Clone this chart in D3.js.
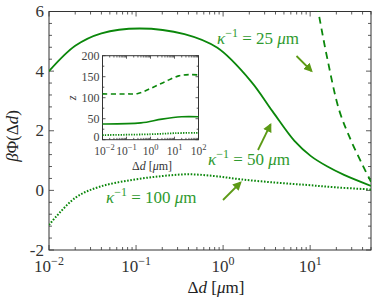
<!DOCTYPE html>
<html>
<head>
<meta charset="utf-8">
<script src="https://cdn.jsdelivr.net/npm/d3@7"></script>
<style>
  body { margin: 0; background: #fff; }
</style>
</head>
<body>
<script>
// ---- data ----
// main panel: beta*Phi vs delta d [um]
const k50_dd  = [0.01, 0.02, 0.04, 0.11, 0.36, 0.86, 2.1, 3.7, 6.6, 10.2, 15.8, 24.5, 50];
const k50_phi = [4.0, 4.85, 5.27, 5.43, 5.24, 4.78, 3.65, 2.65, 1.66, 1.15, 0.80, 0.52, 0.15];

const k25_dd  = [9, 12.4, 15.8, 21.5, 29.3, 40, 50];
const k25_phi = [8.2, 6.0, 4.4, 2.7, 1.69, 0.85, 0.29];

const k100_dd  = [0.01, 0.02, 0.038, 0.09, 0.2, 0.4, 0.8, 1.6, 4, 9.3, 20, 50];
const k100_phi = [-1.16, -0.25, 0.12, 0.35, 0.48, 0.54, 0.48, 0.37, 0.26, 0.18, 0.10, 0.03];

// inset: z vs delta d
const z25_dd  = [0.01, 0.1, 0.3, 1, 4, 15, 40, 100];
const z25_z   = [109, 109, 110, 122, 138, 152, 155, 154];
const z50_dd  = [0.01, 0.4, 3, 20, 100];
const z50_z   = [37.5, 40, 49, 54.5, 54.5];
const z100_dd = [0.01, 1, 10, 100];
const z100_z  = [11, 13, 15.5, 16.5];

const main_xticks = [0.01, 0.1, 1, 10];
const main_xexp   = ["−2", "−1", "0", "1"];
const main_yticks = [-2, 0, 2, 4, 6];
const inset_xticks = [0.01, 0.1, 1, 10, 100];
const inset_xexp   = ["−2", "−1", "0", "1", "2"];
const inset_yticks = [0, 50, 100, 150, 200];

const labels = [
  {val: "25", x: 217, y: 44},
  {val: "50", x: 208, y: 165},
  {val: "100", x: 106, y: 203}
];
const arrows = [
  [296.5, 56, 311.5, 71],
  [258, 150, 270.5, 124.5],
  [223, 200, 240.5, 182.5]
];

const FONT = "'Liberation Serif', 'Times New Roman', 'DejaVu Serif', serif";
const curve_col = "#0b870b";
const text_col = "#2f9a2f";
const arrow_col = "#5c9a16";
const frame_col = "#333";

let svg = d3.select("body").append("svg")
  .attr("width", 374).attr("height", 300)
  .attr("font-family", FONT);

// ---- main scales ----
let x = d3.scaleLog().domain([0.01, 50]).range([49, 371]);
let y = d3.scaleLinear().domain([-2, 6]).range([250, 11.5]);

svg.append("clipPath").attr("id", "mainclip")
  .append("rect").attr("x", 49).attr("y", 11.5).attr("width", 322).attr("height", 238.5);

function zip(a, b) { return a.map((v, i) => [v, b[i]]); }

// ticks on all four sides, pointing inwards
function drawTicks(g, xs, ys, x0, x1, y0, y1, major, minor, ymajor, ysc, xsc) {
  xs.forEach(v => {
    let isMaj = Math.abs(Math.log10(v) - Math.round(Math.log10(v))) < 1e-9;
    let len = isMaj ? major : minor;
    g.append("line").attr("x1", xsc(v)).attr("x2", xsc(v)).attr("y1", y1).attr("y2", y1 - len);
    g.append("line").attr("x1", xsc(v)).attr("x2", xsc(v)).attr("y1", y0).attr("y2", y0 + len);
  });
  ys.forEach(v => {
    let len = ymajor.includes(v) ? major : minor;
    g.append("line").attr("y1", ysc(v)).attr("y2", ysc(v)).attr("x1", x0).attr("x2", x0 + len);
    g.append("line").attr("y1", ysc(v)).attr("y2", ysc(v)).attr("x1", x1).attr("x2", x1 - len);
  });
  g.attr("stroke", frame_col).attr("stroke-width", 0.8);
}

// frame
svg.append("rect").attr("x", 49).attr("y", 11.5).attr("width", 322).attr("height", 238.5)
  .attr("fill", "none").attr("stroke", frame_col).attr("stroke-width", 1);

let mainX = x.ticks().filter(v => v >= 0.01 && v <= 50);
let mainY = d3.range(-2, 6.001, 0.4).map(v => Math.round(v * 10) / 10);
drawTicks(svg.append("g"), mainX, mainY, 49, 371, 11.5, 250, 5, 3, main_yticks, y, x);

// main curves
let line = d3.line().x(d => x(d[0])).y(d => y(d[1])).curve(d3.curveCatmullRom.alpha(0.5));
let curves = svg.append("g").attr("clip-path", "url(#mainclip)").attr("fill", "none")
  .attr("stroke", curve_col).attr("stroke-width", 1.8);
curves.append("path").attr("d", line(zip(k50_dd, k50_phi)));
curves.append("path").attr("d", line(zip(k25_dd, k25_phi))).attr("stroke-dasharray", "7,5");
curves.append("path").attr("d", line(zip(k100_dd, k100_phi)))
  .attr("stroke-dasharray", "1.6,1.6").attr("stroke-width", 2);

// main tick labels
svg.selectAll(".ylab").data(main_yticks).enter().append("text")
  .attr("x", 44).attr("y", d => y(d) + 5.5).attr("text-anchor", "end")
  .attr("font-size", 17).attr("fill", "#333")
  .text(d => d < 0 ? "-" + Math.abs(d) : d);

main_xticks.forEach((v, i) => {
  let t = svg.append("text").attr("x", x(v)).attr("y", 272).attr("text-anchor", "middle")
    .attr("font-size", 17).attr("fill", "#333");
  t.append("tspan").text("10");
  t.append("tspan").attr("dy", -7).attr("font-size", 12).text(main_xexp[i]);
});

// axis labels
let xl = svg.append("text").attr("x", 216).attr("y", 293).attr("text-anchor", "middle")
  .attr("font-size", 17).attr("fill", "#222");
xl.append("tspan").text("Δ");
xl.append("tspan").attr("font-style", "italic").text("d");
xl.append("tspan").text(" [");
xl.append("tspan").attr("font-style", "italic").text("μ");
xl.append("tspan").text("m]");

let yl = svg.append("text").attr("transform", "translate(18,136) rotate(-90)")
  .attr("text-anchor", "middle").attr("font-size", 17).attr("fill", "#222");
yl.append("tspan").attr("font-style", "italic").text("β");
yl.append("tspan").text("Φ(Δ");
yl.append("tspan").attr("font-style", "italic").text("d");
yl.append("tspan").text(")");

// annotations
labels.forEach(l => {
  let t = svg.append("text").attr("x", l.x).attr("y", l.y).attr("font-size", 17).attr("fill", text_col);
  t.append("tspan").attr("font-style", "italic").text("κ");
  t.append("tspan").attr("dy", -7).attr("font-size", 12).text("−1");
  t.append("tspan").attr("dy", 7).text(" = " + l.val + " ");
  t.append("tspan").attr("font-style", "italic").text("μ");
  t.append("tspan").text("m");
});

svg.append("defs").append("marker").attr("id", "head")
  .attr("viewBox", "0 0 10 10").attr("refX", 8).attr("refY", 5)
  .attr("markerWidth", 5).attr("markerHeight", 5).attr("orient", "auto")
  .append("path").attr("d", "M0,0 L10,5 L0,10 z").attr("fill", arrow_col);

arrows.forEach(a => {
  svg.append("line").attr("x1", a[0]).attr("y1", a[1]).attr("x2", a[2]).attr("y2", a[3])
    .attr("stroke", arrow_col).attr("stroke-width", 1.8).attr("marker-end", "url(#head)");
});

// ---- inset ----
let ix = d3.scaleLog().domain([0.01, 100]).range([102.5, 198.5]);
let iy = d3.scaleLinear().domain([0, 200]).range([139.7, 55.7]);

svg.append("rect").attr("x", 102.5).attr("y", 55.7).attr("width", 96).attr("height", 84)
  .attr("fill", "#fff").attr("stroke", frame_col).attr("stroke-width", 1);

let insX = ix.ticks().filter(v => v >= 0.01 && v <= 100);
let insY = d3.range(0, 200.01, 25);
drawTicks(svg.append("g"), insX, insY, 102.5, 198.5, 55.7, 139.7, 3, 1.8, inset_yticks, iy, ix);

let iline = d3.line().x(d => ix(d[0])).y(d => iy(d[1])).curve(d3.curveCatmullRom.alpha(0.5));
let icurves = svg.append("g").attr("fill", "none").attr("stroke", curve_col).attr("stroke-width", 1.6);
icurves.append("path").attr("d", iline(zip(z25_dd, z25_z))).attr("stroke-dasharray", "5,3.5");
icurves.append("path").attr("d", iline(zip(z50_dd, z50_z)));
icurves.append("path").attr("d", iline(zip(z100_dd, z100_z)))
  .attr("stroke-dasharray", "1.3,1.3").attr("stroke-width", 1.8);

svg.selectAll(".iylab").data(inset_yticks).enter().append("text")
  .attr("x", 99.5).attr("y", d => iy(d) + (d === 0 ? 1.3 : 4)).attr("text-anchor", "end")
  .attr("font-size", 12).attr("fill", "#444").text(d => d);

inset_xticks.forEach((v, i) => {
  let t = svg.append("text").attr("x", ix(v) + (i === 0 ? 2 : 0)).attr("y", 154.5).attr("text-anchor", "middle")
    .attr("font-size", 11.5).attr("fill", "#444");
  t.append("tspan").text("10");
  t.append("tspan").attr("dy", -5).attr("font-size", 8.5).text(inset_xexp[i]);
});

let ixl = svg.append("text").attr("x", 152).attr("y", 169.5).attr("text-anchor", "middle")
  .attr("font-size", 12).attr("fill", "#333");
ixl.append("tspan").text("Δ");
ixl.append("tspan").attr("font-style", "italic").text("d");
ixl.append("tspan").text(" [");
ixl.append("tspan").attr("font-style", "italic").text("μ");
ixl.append("tspan").text("m]");

svg.append("text").attr("transform", "translate(76,98) rotate(-90)")
  .attr("text-anchor", "middle").attr("font-size", 12).attr("font-style", "italic")
  .attr("fill", "#333").text("z");
</script>
</body>
</html>
